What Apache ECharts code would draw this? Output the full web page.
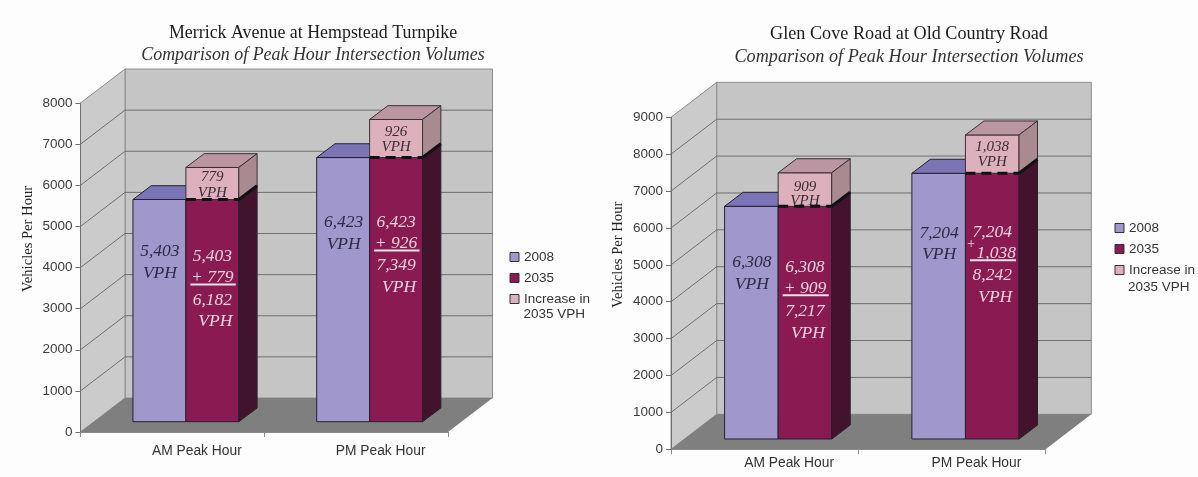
<!DOCTYPE html>
<html>
<head>
<meta charset="utf-8">
<style>
  html, body { margin: 0; padding: 0; background: #fdfdfd; }
  #chart { width: 1198px; height: 477px; }
</style>
<script src="https://cdn.jsdelivr.net/npm/echarts@6/dist/echarts.min.js"></script>
</head>
<body>
<div id="chart"></div>
<script>
const categories = ["AM Peak Hour", "PM Peak Hour"];
const merrick2008 = [5403, 6423];
const merrickIncrease = [779, 926];
const merrickTicks = [0, 1000, 2000, 3000, 4000, 5000, 6000, 7000, 8000];
const glen2008 = [6308, 7204];
const glenIncrease = [909, 1038];
const glenTicks = [0, 1000, 2000, 3000, 4000, 5000, 6000, 7000, 8000, 9000];

const seriesNames = ["2008", "2035", "Increase in 2035 VPH"];
const sans = "Liberation Sans";
const serif = "Liberation Serif";

const purple = { front: "#a098cc", top: "#7b74b6" };
const wine = { front: "#8a1a52", side: "#43132e" };
const pink = { front: "#dcb0bc", top: "#bb95a2", side: "#a98a90" };
const edge = "#26202e";

// pseudo 3d layout of each panel, pixels
const panels = [
  {
    grid: { left: 80.5, top: 103, width: 367.5, height: 329 },
    back: [44.5, -34], near: [13.5, -10.3], depth: [18.3, -13.8], barShare: 0.288,
    name: "Merrick Avenue at Hempstead Turnpike", titleX: 308, titleTop: 19, subTop: 41, titleSize: 17.9,
    labelMargin: 12,
    legend: { left: 505.5, top: 250 }, legendLine: [523.5, 314],
    base: merrick2008, increase: merrickIncrease, ticks: merrickTicks,
    // text offsets below the top of the 2035 bar: first, plus, rule, total, unit
    redText: [[55, 76, 85, 99, 120], [63, 84, 93, 106, 128]],
    baseText: [[50, 72], [63, 85]],
    upText: [[-24, -8], [-27, -12]]
  },
  {
    grid: { left: 671, top: 117.3, width: 374.6, height: 332 },
    back: [45.7, -35], near: [13.5, -10.3], depth: [18.5, -14], barShare: 0.286,
    name: "Glen Cove Road at Old Country Road", titleX: 904, titleTop: 20, subTop: 43, titleSize: 18.2,
    labelMargin: 7,
    legend: { left: 1110.5, top: 221 }, legendLine: [1128, 287],
    base: glen2008, increase: glenIncrease, ticks: glenTicks,
    redText: [[59, 80, 89, 103, 125], [57, 78, 87, 100, 122]],
    baseText: [[54, 76], [58, 79]],
    upText: [[-21, -7], [-28, -13]]
  }
];

const fmt = (v) => v.toLocaleString("en-US");

function poly(points, fill, stroke) {
  return {
    type: "polygon",
    shape: { points },
    style: { fill, stroke: stroke || "none", lineWidth: stroke ? 1 : 0 }
  };
}

function label(x, y, text, fill, size) {
  return {
    type: "text",
    style: {
      x, y: y + 2, text, fill,
      font: "italic " + size + "px '" + serif + "'",
      align: "center", verticalAlign: "middle"
    }
  };
}

function frameSeries(p, idx) {
  const top = p.ticks[p.ticks.length - 1];
  return {
    type: "custom", xAxisIndex: idx, yAxisIndex: idx, silent: true, z: 1,
    data: [[0]],
    renderItem(params, api) {
      const half = api.size([1, 0])[0] / 2;
      const x0 = api.coord([0, 0])[0] - half;
      const x1 = api.coord([1, 0])[0] + half;
      const y0 = api.coord([0, 0])[1];
      const y1 = api.coord([0, top])[1];
      const [bx, by] = p.back;
      const wallLine = "#8c8c8c";
      const children = [
        poly([[x0 + bx, y1 + by], [x1 + bx, y1 + by], [x1 + bx, y0 + by], [x0 + bx, y0 + by]], "#c6c5c5", wallLine),
        poly([[x0, y1], [x0 + bx, y1 + by], [x0 + bx, y0 + by], [x0, y0]], "#cbcbcb", wallLine),
        poly([[x0, y0], [x0 + bx, y0 + by], [x1 + bx, y0 + by], [x1, y0]], "#7f7f7f")
      ];
      p.ticks.slice(1, -1).forEach((t) => {
        const y = api.coord([0, t])[1];
        children.push({
          type: "polyline",
          shape: { points: [[x0, y], [x0 + bx, y + by], [x1 + bx, y + by]] },
          style: { fill: "none", stroke: "#6f6f6f", lineWidth: 1 }
        });
      });
      return { type: "group", children };
    }
  };
}

function barBox(api, p, cat, value, slot) {
  const band = api.size([1, 0])[0];
  const w = band * p.barShare;
  const c = api.coord([cat, value]);
  const left = c[0] + p.near[0] + (slot - 1) * w;
  return { left, right: left + w, y: c[1] + p.near[1], w };
}

function series2008(p, idx) {
  return {
    name: seriesNames[0], type: "custom", xAxisIndex: idx, yAxisIndex: idx, z: 2,
    itemStyle: { color: purple.front },
    data: p.base.map((v, i) => [i, v]),
    renderItem(params, api) {
      const cat = api.value(0), v = api.value(1);
      const top = barBox(api, p, cat, v, 0);
      const bot = barBox(api, p, cat, 0, 0);
      const [dx, dy] = p.depth;
      const off = p.baseText[cat];
      const mid = (top.left + top.right) / 2 + 0.5;
      return {
        type: "group",
        children: [
          poly([[top.left, top.y], [top.right, top.y], [top.right, bot.y], [top.left, bot.y]], purple.front, edge),
          poly([[top.left, top.y], [top.left + dx, top.y + dy], [top.right + dx, top.y + dy], [top.right, top.y]], purple.top, edge),
          label(mid, top.y + off[0], fmt(v), "#2c2a46", 17.5),
          label(mid, top.y + off[1], "VPH", "#2c2a46", 17.5)
        ]
      };
    }
  };
}

function series2035(p, idx) {
  return {
    name: seriesNames[1], type: "custom", xAxisIndex: idx, yAxisIndex: idx, z: 3,
    itemStyle: { color: wine.front },
    data: p.base.map((v, i) => [i, v]),
    renderItem(params, api) {
      const cat = api.value(0), v = api.value(1);
      const top = barBox(api, p, cat, v, 1);
      const bot = barBox(api, p, cat, 0, 1);
      const [dx, dy] = p.depth;
      const off = p.redText[cat];
      const mid = (top.left + top.right) / 2;
      const ink = "#e8d3dd";
      const add = p.increase[cat];
      const children = [
        poly([[top.left, top.y], [top.right, top.y], [top.right, bot.y], [top.left, bot.y]], wine.front, edge),
        poly([[top.right, top.y], [top.right + dx, top.y + dy], [top.right + dx, bot.y + dy], [top.right, bot.y]], wine.side, edge),
        label(mid, top.y + off[0], fmt(v), ink, 17.5),
        label(mid, top.y + off[3], fmt(v + add), ink, 17.5),
        label(mid + 3, top.y + off[4], "VPH", ink, 17.5),
        {
          type: "line",
          shape: { x1: top.left + 4.5, y1: top.y + off[2], x2: top.right - 3, y2: top.y + off[2] },
          style: { stroke: "#efe4e9", lineWidth: 2 }
        }
      ];
      // the plus hangs apart from the four digit increase
      if (add >= 1000) {
        children.push(label(top.left + 5.5, top.y + off[1] - 9, "+", ink, 14));
        children.push(label(mid + 4, top.y + off[1], fmt(add), ink, 17.5));
      } else {
        children.push(label(mid, top.y + off[1], "+ " + fmt(add), ink, 17.5));
      }
      return { type: "group", children };
    }
  };
}

function seriesIncrease(p, idx) {
  return {
    name: seriesNames[2], type: "custom", xAxisIndex: idx, yAxisIndex: idx, z: 4,
    itemStyle: { color: pink.front },
    data: p.increase.map((v, i) => [i, p.base[i], v]),
    renderItem(params, api) {
      const cat = api.value(0), base = api.value(1), add = api.value(2);
      const top = barBox(api, p, cat, base + add, 1);
      const bot = barBox(api, p, cat, base, 1);
      const [dx, dy] = p.depth;
      const off = p.upText[cat];
      const mid = (top.left + top.right) / 2;
      return {
        type: "group",
        children: [
          poly([[top.left, top.y], [top.right, top.y], [top.right, bot.y], [top.left, bot.y]], pink.front, "#3a3036"),
          poly([[top.left, top.y], [top.left + dx, top.y + dy], [top.right + dx, top.y + dy], [top.right, top.y]], pink.top, "#3a3036"),
          poly([[top.right, top.y], [top.right + dx, top.y + dy], [top.right + dx, bot.y + dy], [top.right, bot.y]], pink.side, "#3a3036"),
          {
            type: "line",
            shape: { x1: top.left, y1: bot.y, x2: top.right, y2: bot.y },
            style: { stroke: "#111", lineWidth: 3, lineDash: [10, 6] }
          },
          {
            type: "line",
            shape: { x1: top.right, y1: bot.y, x2: top.right + dx, y2: bot.y + dy },
            style: { stroke: "#111", lineWidth: 3 }
          },
          label(mid, bot.y + off[0], fmt(add), "#3c2a34", 15),
          label(mid, bot.y + off[1], "VPH", "#3c2a34", 15)
        ]
      };
    }
  };
}

const chart = echarts.init(document.getElementById("chart"));

chart.setOption({
  animation: false,
  backgroundColor: "#fdfdfd",
  textStyle: { fontFamily: sans },
  title: panels.flatMap((p) => [
    {
      text: p.name, left: p.titleX, top: p.titleTop, textAlign: "center",
      textStyle: { fontFamily: serif, fontSize: p.titleSize, fontWeight: "normal", color: "#1c1c1c" }
    },
    {
      text: "Comparison of Peak Hour Intersection Volumes", left: p.titleX, top: p.subTop, textAlign: "center",
      textStyle: { fontFamily: serif, fontSize: p.titleSize, fontStyle: "italic", fontWeight: "normal", color: "#333" }
    }
  ]),
  grid: panels.map((p) => p.grid),
  xAxis: panels.map((p, i) => ({
    type: "category", gridIndex: i, data: categories, z: 6,
    axisLine: { lineStyle: { color: "#8a8a8a", width: 1 } },
    axisTick: { show: true, length: 5, lineStyle: { color: "#8a8a8a" } },
    // labels sit under the bars, which stand back from the front edge
    axisLabel: { color: "#333", fontSize: 13.8, fontFamily: sans, margin: p.labelMargin, padding: [0, 0, 0, 49] }
  })),
  yAxis: panels.map((p, i) => ({
    type: "value", gridIndex: i, min: 0, max: p.ticks[p.ticks.length - 1], interval: 1000, z: 6,
    name: "Vehicles Per Hour", nameLocation: "middle", nameGap: 45,
    nameTextStyle: { color: "#222", fontFamily: serif, fontSize: 14.6, padding: [0, 0, 0, 57] },
    axisLine: { show: true, lineStyle: { color: "#6f6f6f", width: 1 } },
    axisTick: { show: true, length: 5, lineStyle: { color: "#6f6f6f" } },
    axisLabel: { color: "#3c3c3c", fontSize: 13.5, fontFamily: sans, margin: 8, formatter: (v) => String(v) },
    splitLine: { show: false }
  })),
  legend: panels.map((p) => ({
    orient: "vertical", left: p.legend.left, top: p.legend.top,
    itemWidth: 9, itemHeight: 9, itemGap: 7, padding: [0, 0, 0, 4],
    icon: "rect", selectedMode: false,
    data: seriesNames,
    formatter: (name) => (name === seriesNames[2] ? "Increase in" : name),
    itemStyle: { borderColor: "#333", borderWidth: 1 },
    textStyle: { color: "#333", fontSize: 13.5, fontFamily: sans }
  })),
  graphic: panels.map((p) => ({
    type: "text", x: p.legendLine[0], y: p.legendLine[1],
    style: { text: "2035 VPH", fill: "#333", font: "13.5px '" + sans + "'", verticalAlign: "middle" }
  })),
  series: panels.flatMap((p, i) => [
    frameSeries(p, i),
    series2008(p, i),
    series2035(p, i),
    seriesIncrease(p, i)
  ])
});
</script>
</body>
</html>
